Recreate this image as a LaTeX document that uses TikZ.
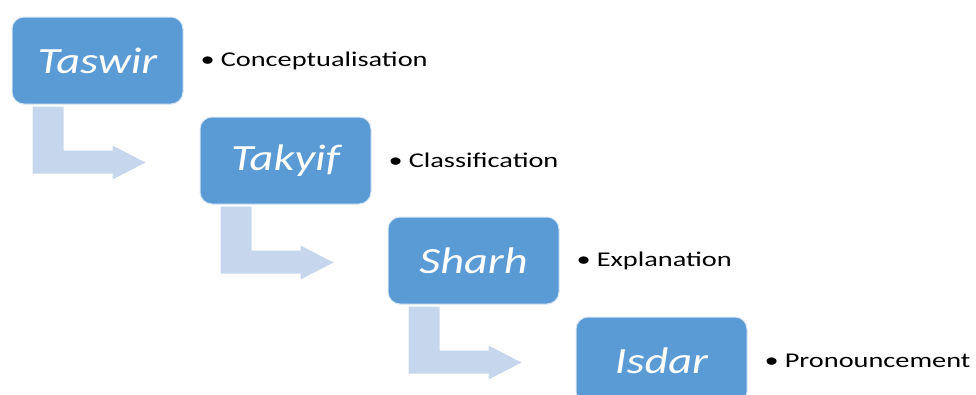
\documentclass[tikz,border=0pt]{standalone}
\usepackage{fontspec}
\usetikzlibrary{positioning}
\usetikzlibrary{calc}
\newfontfamily\stepfont[FakeStretch=1.25]{Carlito}
\newfontfamily\notefont[FakeStretch=1.35]{Carlito}
\definecolor{stepblue}{HTML}{5B9BD5}
\definecolor{bendblue}{HTML}{C6D6EC}

\begin{document}
\begin{tikzpicture}[
  x=1pt,y=-1pt,
  stage/.style={draw=white!75!stepblue,line width=1pt,rounded corners=12pt,fill=stepblue,
    text=white,minimum width=171pt,minimum height=87pt,inner sep=0pt,
    font=\stepfont\itshape\fontsize{37}{40}\selectfont},
  note/.style={inner sep=0pt,anchor=west,font=\notefont\fontsize{21}{24}\selectfont},
  elbow/.style={fill=bendblue}]
  \useasboundingbox (0,0) rectangle (976,394);

  % the four stages, stepping down to the right
  \node[stage] (taswir) at (97.5,60.5) {Taswir};
  \node[stage,below right=12pt and 16pt of taswir] (takyif) {Takyif};
  \node[stage,below right=12pt and 16pt of takyif] (sharh) {Sharh};
  \node[stage,below right=12pt and 16pt of sharh] (isdar) {Isdar};

  % bullet notes next to each stage
  \node[note,right=17pt of taswir] (conc) {\textbullet\hspace{6pt}Conceptualisation};
  \node[note,right=17pt of takyif] (clas) {\textbullet\hspace{6pt}Classification};
  \node[note,right=17pt of sharh] (expl) {\textbullet\hspace{6pt}Explanation};
  \node[note,right=17pt of isdar] (pron) {\textbullet\hspace{6pt}Pronouncement};

  % bent arrows from one stage to the next
  \foreach \a in {taswir,takyif,sharh}
    \fill[elbow] ($(\a.south west)+(21,2)$) -- ++(31,0) -- ++(0,44) -- ++(49,0)
      -- ++(0,-5) -- ++(33,17) -- ++(-33,17) -- ++(0,-6) -- ++(-80,0) -- cycle;
\end{tikzpicture}
\end{document}
